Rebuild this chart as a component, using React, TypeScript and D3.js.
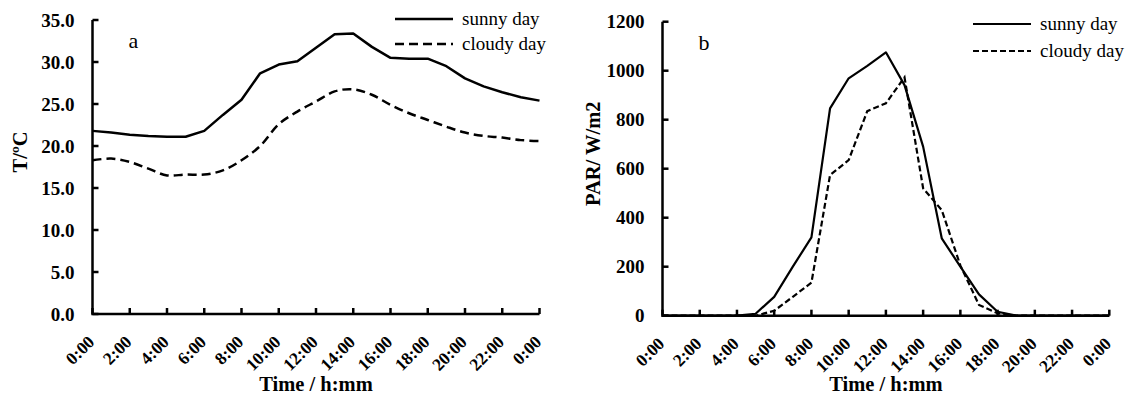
import React from 'react';
import * as d3 from 'd3';

// hourly readings, 0:00 .. 24:00
const hours = d3.range(0, 25);
const tempSunny = [21.8, 21.6, 21.35, 21.2, 21.1, 21.1, 21.8, 23.7, 25.5, 28.65, 29.7, 30.1, 31.7,
    33.3, 33.4, 31.8, 30.5, 30.4, 30.4, 29.5, 28.05, 27.1, 26.4, 25.8, 25.4];
const tempCloudy = [18.3, 18.5, 18.1, 17.3, 16.5, 16.6, 16.6, 17.1, 18.3, 20.0, 22.6, 24.1, 25.3,
    26.5, 26.75, 26.1, 24.9, 23.9, 23.1, 22.3, 21.6, 21.2, 21.0, 20.7, 20.6];
const parSunny = [0, 0, 0, 0, 0, 8, 77, 200, 320, 846, 969, 1020, 1075,
    941, 690, 316, 200, 87, 16, 0, 0, 0, 0, 0, 0];
const parCloudy = [0, 0, 0, 0, 0, 0, 20, 77, 135, 574, 635, 835, 867,
    973, 520, 431, 205, 44, 10, 0, 0, 0, 0, 0, 0];
const timeLabels = ['0:00', '2:00', '4:00', '6:00', '8:00', '10:00', '12:00',
    '14:00', '16:00', '18:00', '20:00', '22:00', '0:00'];
const tempTicks = [0, 5, 10, 15, 20, 25, 30, 35];
const parTicks = [0, 200, 400, 600, 800, 1000, 1200];
const seriesNames = ['sunny day', 'cloudy day'];

const FONT = '"Liberation Serif", "Times New Roman", serif';

const Panel = ({ left, right, top, bottom, yMax, yTicks, fmt, sunny, cloudy, smoothCloudy,
    dash, width, letter, yTitle, yTitleX, legendX, legendY }) => {
    const x = d3.scaleLinear().domain([0, 24]).range([left, right]);
    const y = d3.scaleLinear().domain([0, yMax]).range([bottom, top]);
    const line = d3.line().x((d, i) => x(hours[i])).y(d => y(d));
    const smooth = d3.line().x((d, i) => x(hours[i])).y(d => y(d)).curve(d3.curveCatmullRom);
    const midY = (top + bottom) / 2 - 15;

    return (
        <g fill="#000">
            {/* series */}
            <path d={line(sunny)} fill="none" stroke="#000" strokeWidth={width} strokeLinejoin="round" />
            <path d={(smoothCloudy ? smooth : line)(cloudy)} fill="none" stroke="#000"
                  strokeWidth={width} strokeDasharray={dash} />

            {/* axes */}
            <path d={`M${left},${top}V${bottom}H${right}`} fill="none" stroke="#000" strokeWidth={2.5} />
            {yTicks.map(t => (
                <g key={'y' + t}>
                    <line x1={left} x2={left + 6} y1={y(t)} y2={y(t)} stroke="#000" strokeWidth={2.5} />
                    <text x={left - 18} y={y(t)} dy="0.35em" textAnchor="end" fontFamily={FONT}
                          fontWeight="bold" fontSize={19}>
                        {fmt(t)}
                    </text>
                </g>
            ))}
            {timeLabels.map((lab, i) => (
                <g key={'x' + i}>
                    <line x1={x(i * 2)} x2={x(i * 2)} y1={bottom} y2={bottom - 6} stroke="#000" strokeWidth={2.5} />
                    <text transform={`translate(${x(i * 2) + 3},${bottom + 29}) rotate(-45)`}
                          textAnchor="end" fontFamily={FONT} fontWeight="bold" fontSize={17.5}>{lab}</text>
                </g>
            ))}

            {/* titles */}
            <text x={(left + right) / 2} y={391} textAnchor="middle" fontFamily={FONT}
                  fontWeight="bold" fontSize={20.5}>
                Time / h:mm
            </text>
            <text transform={`translate(${yTitleX},${midY}) rotate(-90)`} textAnchor="middle"
                  fontFamily={FONT} fontWeight="bold" fontSize={20.5}>{yTitle}</text>
            <text x={left + 36} y={top + 28} fontFamily={FONT} fontSize={22}>{letter}</text>

            {/* legend */}
            {seriesNames.map((name, i) => (
                <g key={name}>
                    <line x1={legendX} x2={legendX + 58} y1={legendY[i]} y2={legendY[i]} stroke="#000"
                          strokeWidth={width} strokeDasharray={i === 0 ? null : dash} />
                    <text x={legendX + 67} y={legendY[i]} dy="0.32em" fontFamily={FONT}
                          fontSize={19}>{name}</text>
                </g>
            ))}
        </g>
    );
};

export default function App() {
    return (
        <svg width={1127} height={406} style={{ position: 'absolute', left: 0, top: 0, background: '#fff' }}>
            <rect width={1127} height={406} fill="#fff" />
            <Panel left={92.5} right={539.5} top={20} bottom={314} yMax={35} yTicks={tempTicks}
                   fmt={d3.format('.1f')} sunny={tempSunny} cloudy={tempCloudy} smoothCloudy
                   dash="9,5" width={2.5} letter="a" yTitle="T/ºC" yTitleX={27}
                   legendX={395} legendY={[19, 44]} />
            <Panel left={662.5} right={1109.3} top={21.7} bottom={315.7} yMax={1200} yTicks={parTicks}
                   fmt={d3.format('d')} sunny={parSunny} cloudy={parCloudy} smoothCloudy={false}
                   dash="6,3" width={2.2} letter="b" yTitle="PAR/ W/m2" yTitleX={600}
                   legendX={973} legendY={[24, 51]} />
        </svg>
    );
}
